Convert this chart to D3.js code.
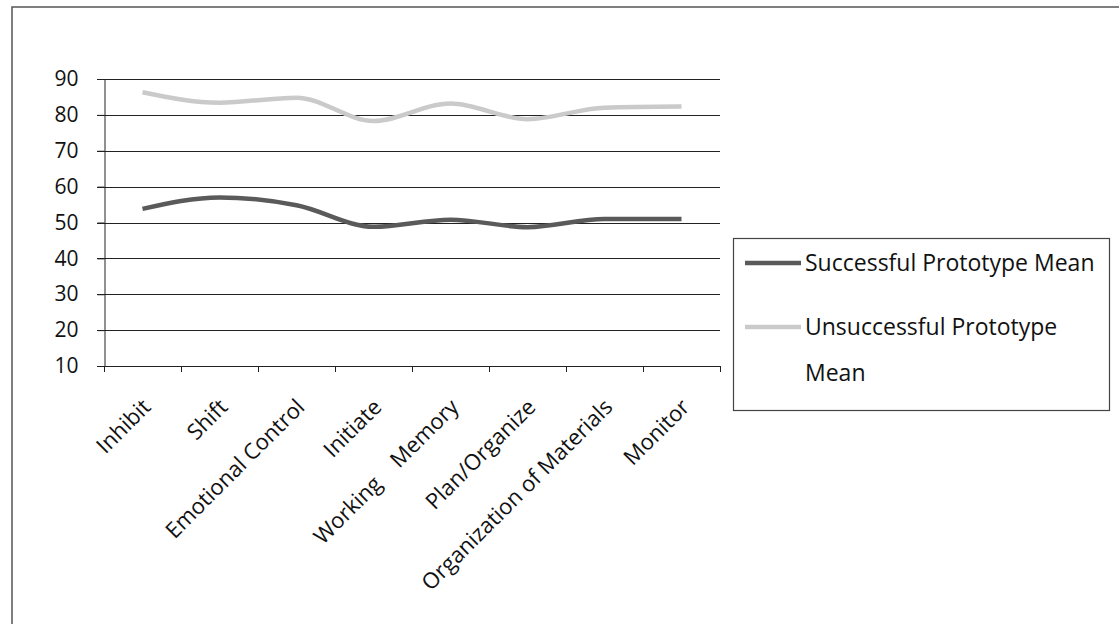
<!DOCTYPE html>
<html>
<head>
<meta charset="utf-8">
<script src="https://cdn.jsdelivr.net/npm/d3@7"></script>
<style>
  html, body { margin: 0; padding: 0; background: #fff; }
  svg { display: block; }
  text { font-family: "Open Sans", "Noto Sans", sans-serif; fill: #111; }
</style>
</head>
<body>
<svg id="chart" width="1119" height="624"></svg>
<script>
const categories = ["Inhibit", "Shift", "Emotional Control", "Initiate", "Working    Memory", "Plan/Organize", "Organization of Materials", "Monitor"];
const successful = [53.8, 57.0, 54.8, 48.8, 50.8, 48.7, 51.0, 51.0];
const unsuccessful = [86.3, 83.4, 84.8, 78.3, 83.2, 78.8, 82.0, 82.3];
const seriesNames = ["Successful Prototype Mean", "Unsuccessful Prototype Mean"];
const yTicks = [10, 20, 30, 40, 50, 60, 70, 80, 90];

const svg = d3.select("#chart");
const W = 1119, H = 624;
const FS = 22;

// outer frame (left/top visible; right/bottom run off page)
svg.append("rect").attr("x", 12).attr("y", 7).attr("width", W + 20).attr("height", H + 20)
  .attr("fill", "none").attr("stroke", "#555").attr("stroke-width", 1.5);

const plot = { left: 104, right: 720, top: 79, bottom: 366 };

const x = d3.scaleBand().domain(categories).range([plot.left, plot.right]).padding(0);
const y = d3.scaleLinear().domain([10, 90]).range([plot.bottom, plot.top]);

// gridlines
svg.append("g").selectAll("line").data(yTicks).join("line")
  .attr("x1", plot.left - 7).attr("x2", plot.right)
  .attr("y1", d => Math.round(y(d)) + 0.5).attr("y2", d => Math.round(y(d)) + 0.5)
  .attr("stroke", "#222").attr("stroke-width", 1);

// y axis
const yAxis = svg.append("g").attr("transform", `translate(${plot.left + 0.5},0)`)
  .call(d3.axisLeft(y).tickValues(yTicks).tickSize(7).tickPadding(19).tickFormat(d3.format("d")));
yAxis.select(".domain").attr("stroke", "#222");
yAxis.selectAll(".tick line").attr("stroke", "#222");
yAxis.selectAll("text").style("font-size", "21px").style("font-family", "'Open Sans', sans-serif").attr("fill", "#111");

// x axis ticks at band edges
const xEdges = categories.map(c => x(c)).concat([plot.right]);
svg.append("g").selectAll("line").data(xEdges).join("line")
  .attr("x1", d => Math.round(d) + 0.5).attr("x2", d => Math.round(d) + 0.5)
  .attr("y1", plot.bottom).attr("y2", plot.bottom + 6)
  .attr("stroke", "#222");

// x labels
const cx = d => x(d) + x.bandwidth() / 2;
svg.append("g").selectAll("text").data(categories).join("text")
  .attr("transform", d => `translate(${cx(d) + 4},${plot.bottom + 37}) rotate(-45)`)
  .attr("text-anchor", "end")
  .attr("dy", "0.35em")
  .style("white-space", "pre")
  .style("font-size", FS + "px")
  .text(d => d);

// lines
const line = d3.line().x((d, i) => cx(categories[i])).y(d => y(d)).curve(d3.curveMonotoneX);
svg.append("path").datum(unsuccessful).attr("d", line)
  .attr("fill", "none").attr("stroke", "#cacaca").attr("stroke-width", 4.5);
svg.append("path").datum(successful).attr("d", line)
  .attr("fill", "none").attr("stroke", "#5a5a5a").attr("stroke-width", 4.5);

// legend
const lg = svg.append("g");
lg.append("rect").attr("x", 733.5).attr("y", 238.5).attr("width", 376).attr("height", 172)
  .attr("fill", "#fff").attr("stroke", "#444").attr("stroke-width", 1.2);
const legendItems = [
  { color: "#5a5a5a", y: 263, lines: [seriesNames[0]] },
  { color: "#cacaca", y: 327, lines: ["Unsuccessful Prototype", "Mean"] }
];
legendItems.forEach(it => {
  lg.append("line").attr("x1", 745).attr("x2", 801).attr("y1", it.y).attr("y2", it.y)
    .attr("stroke", it.color).attr("stroke-width", 4.5);
  const t = lg.append("text").attr("y", it.y).style("font-size", "23px");
  it.lines.forEach((ln, j) => {
    t.append("tspan").attr("x", 805).attr("dy", j === 0 ? "0.35em" : "46px").text(ln);
  });
});
</script>
</body>
</html>
